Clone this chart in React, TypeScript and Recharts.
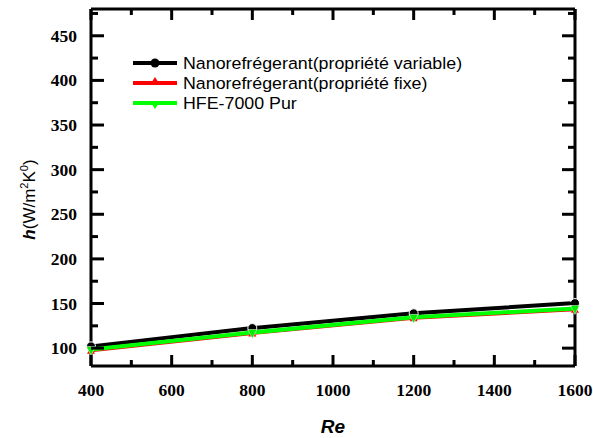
import { LineChart, Line, XAxis, YAxis } from 'recharts';

const reValues = [400, 800, 1200, 1600];
const hVariable = [102, 122.5, 139, 150.5];
const hFixe = [97, 116.5, 133.5, 143];
const hPur = [98.5, 117.5, 134.5, 144.5];

const xTicks = [400, 500, 600, 700, 800, 900, 1000, 1100, 1200, 1300, 1400, 1500, 1600];
const yTicks = [100, 125, 150, 175, 200, 225, 250, 275, 300, 325, 350, 375, 400, 425, 450, 475];

const seriesNames = [
  'Nanorefrégerant(propriété variable)',
  'Nanorefrégerant(propriété fixe)',
  'HFE-7000 Pur',
];

const data = reValues.map((re, i) => ({
  re,
  variable: hVariable[i],
  fixe: hFixe[i],
  pur: hPur[i],
}));

const tickFont = { fontFamily: '"Liberation Serif", serif', fontWeight: 700, fontSize: 17.5, fill: '#000' };

// ticks point inward on all four sides, like the Origin frame
function BottomTick({ x, y, payload }: any) {
  const major = payload.value % 200 === 0;
  return (
    <g>
      <line x1={x} x2={x} y1={y} y2={y - (major ? 11 : 6)} stroke="#000" strokeWidth={3} />
      {major && (
        <text x={x} y={y + 30} textAnchor="middle" {...tickFont}>
          {payload.value}
        </text>
      )}
    </g>
  );
}

function TopTick({ x, y, payload }: any) {
  const major = payload.value % 200 === 0;
  return <line x1={x} x2={x} y1={y} y2={y + (major ? 11 : 6)} stroke="#000" strokeWidth={3} />;
}

function LeftTick({ x, y, payload }: any) {
  const major = payload.value % 50 === 0;
  return (
    <g>
      <line x1={x} x2={x + (major ? 13 : 7)} y1={y} y2={y} stroke="#000" strokeWidth={3} />
      {major && (
        <text x={x - 14} y={y + 6} textAnchor="end" {...tickFont}>
          {payload.value}
        </text>
      )}
    </g>
  );
}

function RightTick({ x, y, payload }: any) {
  const major = payload.value % 50 === 0;
  return <line x1={x} x2={x - (major ? 13 : 7)} y1={y} y2={y} stroke="#000" strokeWidth={3} />;
}

function YTitle({ viewBox }: any) {
  const cy = viewBox.y + viewBox.height / 2 + 12;
  return (
    <text
      x={0}
      y={0}
      transform={`translate(35, ${cy}) rotate(-90)`}
      textAnchor="middle"
      fontFamily='"Liberation Sans", Arial, sans-serif'
      fontSize={17}
      fill="#000"
    >
      <tspan fontWeight={700} fontStyle="italic">h</tspan>
      <tspan>(W/m</tspan>
      <tspan fontSize={11} dy={-7}>2</tspan>
      <tspan dy={7}>K</tspan>
      <tspan fontSize={11} dy={-7}>0</tspan>
      <tspan dy={7}>)</tspan>
    </text>
  );
}

function XTitle({ viewBox }: any) {
  return (
    <text
      x={viewBox.x + viewBox.width / 2}
      y={433}
      textAnchor="middle"
      fontFamily='"Liberation Sans", Arial, sans-serif'
      fontSize={19}
      fontWeight={700}
      fontStyle="italic"
      fill="#000"
    >
      Re
    </text>
  );
}

const legendItems = [
  { name: seriesNames[0], color: '#000000', shape: 'circle' },
  { name: seriesNames[1], color: '#ff0000', shape: 'up' },
  { name: seriesNames[2], color: '#00ff00', shape: 'down' },
];

function Legend() {
  return (
    <g fontFamily='"Liberation Sans", Arial, sans-serif' fontSize={16.5}>
      {legendItems.map((it, i) => {
        const cy = 63 + i * 20;
        return (
          <g key={it.name}>
            <line x1={133} x2={177} y1={cy} y2={cy} stroke={it.color} strokeWidth={4} />
            {it.shape === 'circle' && <circle cx={155} cy={cy} r={4.5} fill={it.color} />}
            {it.shape === 'up' && <polygon points={`150,${cy + 2} 160,${cy + 2} 155,${cy - 6}`} fill={it.color} />}
            {it.shape === 'down' && <polygon points={`150,${cy - 2} 160,${cy - 2} 155,${cy + 6}`} fill={it.color} />}
            <text x={0} y={0} transform={`translate(183, ${cy + 6}) scale(1.08, 1)`} fill="#000">
              {it.name}
            </text>
          </g>
        );
      })}
    </g>
  );
}

function CircleDot({ cx, cy }: any) {
  return <circle cx={cx} cy={cy} r={4.5} fill="#000" stroke="#fff" strokeWidth={1} />;
}

function UpDot({ cx, cy }: any) {
  return <polygon points={`${cx - 4},${cy + 3} ${cx + 4},${cy + 3} ${cx},${cy - 4}`} fill="#ff0000" />;
}

function DownDot({ cx, cy }: any) {
  return <polygon points={`${cx - 4.5},${cy - 3} ${cx + 4.5},${cy - 3} ${cx},${cy + 6}`} fill="#00ee00" stroke="#fff" strokeWidth={0.5} />;
}

export default function App() {
  return (
    <div style={{ position: 'absolute', left: 0, top: 0, width: 593, height: 438, background: '#fff' }}>
      <LineChart width={593} height={438} data={data} margin={{ top: 8, right: 17, left: 31, bottom: 32 }}>
        <XAxis
          dataKey="re"
          type="number"
          domain={[400, 1600]}
          ticks={xTicks}
          interval={0}
          tickSize={0}
          tickMargin={0}
          height={40}
          axisLine={{ stroke: '#000', strokeWidth: 3 }}
          tick={<BottomTick />}
          label={<XTitle />}
        />
        <XAxis
          xAxisId="top"
          orientation="top"
          dataKey="re"
          type="number"
          domain={[400, 1600]}
          ticks={xTicks}
          interval={0}
          tickSize={0}
          tickMargin={0}
          height={1}
          axisLine={{ stroke: '#000', strokeWidth: 3 }}
          tick={<TopTick />}
        />
        <YAxis
          type="number"
          domain={[80, 480]}
          ticks={yTicks}
          interval={0}
          tickSize={0}
          tickMargin={0}
          width={60}
          allowDataOverflow
          axisLine={{ stroke: '#000', strokeWidth: 3 }}
          tick={<LeftTick />}
          label={<YTitle />}
        />
        <YAxis
          yAxisId="right"
          orientation="right"
          type="number"
          domain={[80, 480]}
          ticks={yTicks}
          interval={0}
          tickSize={0}
          tickMargin={0}
          width={1}
          allowDataOverflow
          axisLine={{ stroke: '#000', strokeWidth: 3 }}
          tick={<RightTick />}
        />
        {/* invisible series so the mirrored top/right axes get drawn */}
        <Line
          xAxisId="top"
          yAxisId="right"
          dataKey="variable"
          stroke="none"
          dot={false}
          activeDot={false}
          legendType="none"
          isAnimationActive={false}
        />
        <Line
          dataKey="variable"
          name={seriesNames[0]}
          stroke="#000"
          strokeWidth={4}
          dot={<CircleDot />}
          isAnimationActive={false}
        />
        <Line
          dataKey="fixe"
          name={seriesNames[1]}
          stroke="#ff0000"
          strokeWidth={3}
          dot={<UpDot />}
          isAnimationActive={false}
        />
        <Line
          dataKey="pur"
          name={seriesNames[2]}
          stroke="#00ff00"
          strokeWidth={4}
          dot={<DownDot />}
          isAnimationActive={false}
        />
        <Legend />
      </LineChart>
    </div>
  );
}
